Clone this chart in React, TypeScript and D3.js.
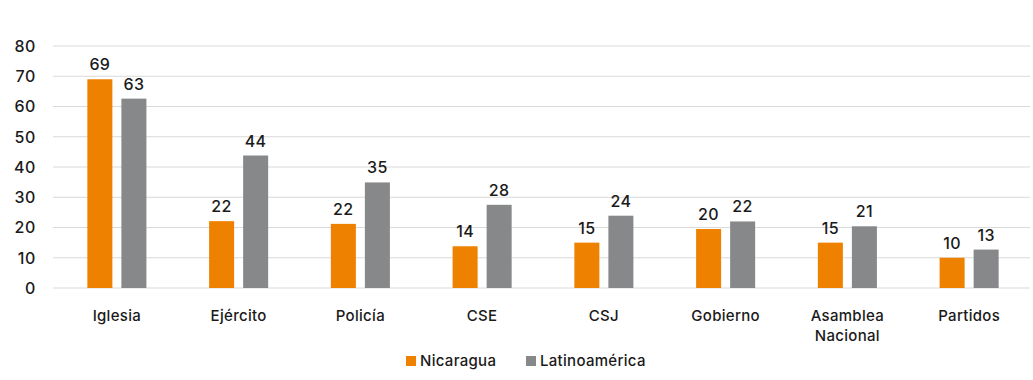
import React from "react";
import * as d3 from "d3";

const categories = ["Iglesia", "Ejército", "Policía", "CSE", "CSJ", "Gobierno", "Asamblea Nacional", "Partidos"];
const seriesNames = ["Nicaragua", "Latinoamérica"];
const nicaragua = [69, 22.1, 21.2, 13.8, 15, 19.5, 15, 10];
const latinoamerica = [62.6, 43.8, 34.9, 27.5, 23.9, 22, 20.4, 12.7];
const nicaraguaLabels = ["69", "22", "22", "14", "15", "20", "15", "10"];
const latinoamericaLabels = ["63", "44", "35", "28", "24", "22", "21", "13"];
const yTicks = [0, 10, 20, 30, 40, 50, 60, 70, 80];

const colors = ["#EE8200", "#87888A"];
const FONT = "Inter, 'Noto Sans', sans-serif";

export default function App() {
  const W = 1033, H = 380;
  const gridLeft = 53, right = 1030;
  const top = 46, bottom = 288;
  const y = d3.scaleLinear().domain([0, 80]).range([bottom, top]);
  const x = d3.scaleBand<string>().domain(categories).range([56, right]).paddingInner(0.515).paddingOuter(0.2575);
  const inner = d3.scaleBand<string>().domain(seriesNames).range([0, x.bandwidth()]).paddingInner(0.2647);
  const series = [
    { name: seriesNames[0], values: nicaragua, labels: nicaraguaLabels, color: colors[0] },
    { name: seriesNames[1], values: latinoamerica, labels: latinoamericaLabels, color: colors[1] },
  ];
  return (
    <svg width={W} height={H} style={{ position: "absolute", left: 0, top: 0, background: "#fff" }} fontFamily={FONT} fontWeight={500}>
      {yTicks.map((t) => (
        <g key={t}>
          <line x1={gridLeft} x2={right} y1={y(t)} y2={y(t)} stroke="#d9d9d9" strokeWidth={1} />
          <text x={36} y={y(t)} dy="0.36em" textAnchor="end" fontSize={16} letterSpacing={0.6} fill="#1a1a1a">{t}</text>
        </g>
      ))}
      {series.map((s) => (
        <g key={s.name}>
          {categories.map((c, i) => {
            const bx = (x(c) as number) + (inner(s.name) as number);
            const by = y(s.values[i]);
            return (
              <g key={c}>
                <rect x={bx} y={by} width={inner.bandwidth()} height={bottom - by} fill={s.color} />
                <text x={bx + inner.bandwidth() / 2} y={by - 9} textAnchor="middle" fontSize={16} letterSpacing={0.4} fill="#1a1a1a">{s.labels[i]}</text>
              </g>
            );
          })}
        </g>
      ))}
      {categories.map((c) => {
        const words = c.split(" ");
        const cx = (x(c) as number) + x.bandwidth() / 2;
        return (
          <text key={c} x={cx} y={321} textAnchor="middle" fontSize={15} letterSpacing={0.3} fill="#1a1a1a">
            {words.map((w, j) => (
              <tspan key={j} x={cx} dy={j === 0 ? 0 : 20}>{w}</tspan>
            ))}
          </text>
        );
      })}
      <g>
        <rect x={406} y={356} width={10} height={10} fill={colors[0]} />
        <text x={420} y={366} fontSize={15} letterSpacing={0.3} fill="#1a1a1a">{seriesNames[0]}</text>
        <rect x={526} y={356} width={10} height={10} fill={colors[1]} />
        <text x={540} y={366} fontSize={15} letterSpacing={0.3} fill="#1a1a1a">{seriesNames[1]}</text>
      </g>
    </svg>
  );
}
